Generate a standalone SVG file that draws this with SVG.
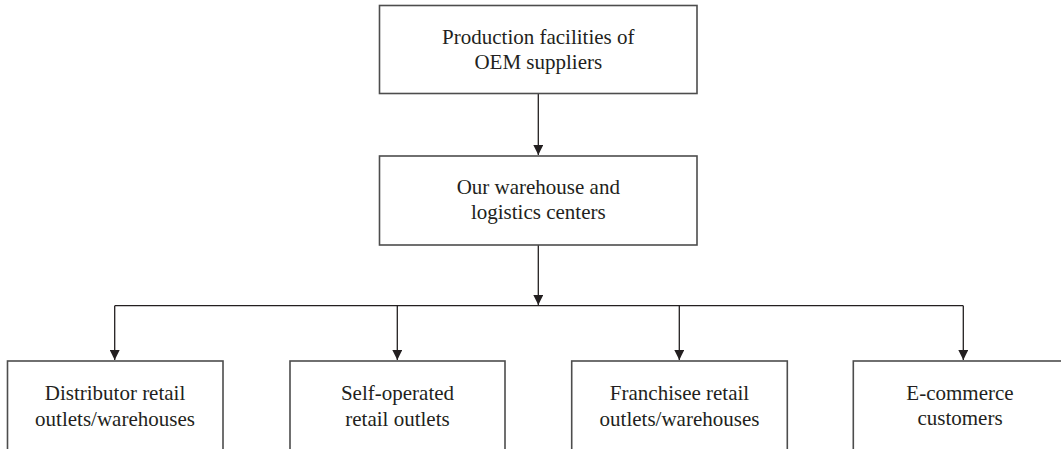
<svg xmlns="http://www.w3.org/2000/svg" width="1061" height="449" viewBox="0 0 1061 449">
  <style>
    .box { fill: #ffffff; stroke: #4d4d4d; stroke-width: 1.6; }
    .label { font-family: "Liberation Serif", "Times New Roman", serif; font-size: 21px; fill: #231f20; text-anchor: middle; }
    .wire { fill: none; stroke: #231f20; stroke-width: 1.3; }
  </style>
  <defs>
    <marker id="arrow" markerUnits="userSpaceOnUse" markerWidth="11" markerHeight="10" refX="10" refY="5" orient="auto">
      <path d="M0,0 L10,5 L0,10 Z" fill="#231f20"/>
    </marker>
  </defs>
  <rect width="1061" height="449" fill="#ffffff"/>

  <!-- connectors -->
  <g id="connectors">
    <line class="wire" x1="538.3" y1="93" x2="538.3" y2="155" marker-end="url(#arrow)"/>
    <line class="wire" x1="538.3" y1="245" x2="538.3" y2="305" marker-end="url(#arrow)"/>
    <polyline class="wire" points="114.7,305.7 963.3,305.7"/>
    <line class="wire" x1="114.7" y1="305.7" x2="114.7" y2="360" marker-end="url(#arrow)"/>
    <line class="wire" x1="397.3" y1="305.7" x2="397.3" y2="360" marker-end="url(#arrow)"/>
    <line class="wire" x1="679.3" y1="305.7" x2="679.3" y2="360" marker-end="url(#arrow)"/>
    <line class="wire" x1="963.3" y1="305.7" x2="963.3" y2="360" marker-end="url(#arrow)"/>
  </g>

  <!-- upstream supply -->
  <g id="oem-suppliers">
    <rect class="box" x="379.5" y="5.5" width="317.5" height="88"/>
    <text class="label" x="538.3" y="44">Production facilities of</text>
    <text class="label" x="538.3" y="69">OEM suppliers</text>
  </g>

  <g id="warehouse-logistics">
    <rect class="box" x="379.5" y="156" width="317.5" height="89"/>
    <text class="label" x="538.3" y="193.5">Our warehouse and</text>
    <text class="label" x="538.3" y="219">logistics centers</text>
  </g>

  <!-- downstream channels -->
  <g id="distributor-outlets">
    <rect class="box" x="7.5" y="361" width="215.5" height="100"/>
    <text class="label" x="115" y="400">Distributor retail</text>
    <text class="label" x="115" y="425.5">outlets/warehouses</text>
  </g>

  <g id="self-operated-outlets">
    <rect class="box" x="290" y="361" width="215" height="100"/>
    <text class="label" x="397.5" y="400">Self-operated</text>
    <text class="label" x="397.5" y="425.5">retail outlets</text>
  </g>

  <g id="franchisee-outlets">
    <rect class="box" x="571.7" y="361" width="215.6" height="100"/>
    <text class="label" x="679.5" y="400">Franchisee retail</text>
    <text class="label" x="679.5" y="425.5">outlets/warehouses</text>
  </g>

  <g id="ecommerce-customers">
    <rect class="box" x="853.3" y="361" width="221" height="100"/>
    <text class="label" x="960" y="399.5">E-commerce</text>
    <text class="label" x="960" y="425">customers</text>
  </g>
</svg>
